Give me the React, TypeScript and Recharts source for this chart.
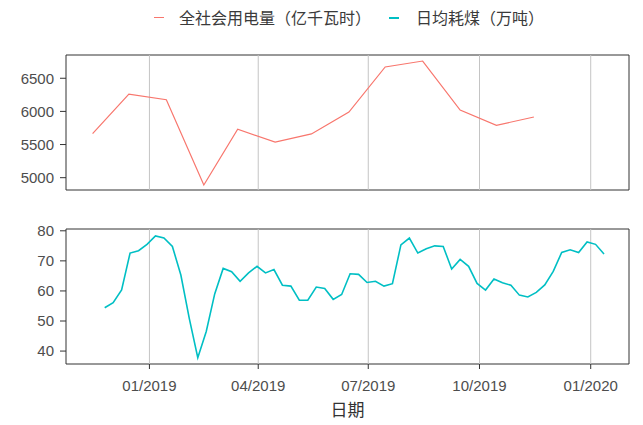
import React from 'react'
import { LineChart, Line, XAxis, YAxis, ReferenceLine, ReferenceArea } from 'recharts'

// monthly power consumption, 100 million kWh
const powerDates = [
  '2018-11-15', '2018-12-15', '2019-01-15', '2019-02-15', '2019-03-15', '2019-04-15', '2019-05-15',
  '2019-06-15', '2019-07-15', '2019-08-15', '2019-09-15', '2019-10-15', '2019-11-15',
]
const powerValues = [5665, 6262, 6176, 4890, 5730, 5536, 5660, 5990, 6670, 6760, 6020, 5790, 5915]

// weekly daily coal burn, 10k tonnes
const coalDates = [
  '2018-11-25', '2018-12-02', '2018-12-09', '2018-12-16', '2018-12-23', '2018-12-30',
  '2019-01-06', '2019-01-13', '2019-01-20', '2019-01-27', '2019-02-03', '2019-02-10',
  '2019-02-17', '2019-02-24', '2019-03-03', '2019-03-10', '2019-03-17', '2019-03-24',
  '2019-03-31', '2019-04-07', '2019-04-14', '2019-04-21', '2019-04-28', '2019-05-05',
  '2019-05-12', '2019-05-19', '2019-05-26', '2019-06-02', '2019-06-09', '2019-06-16',
  '2019-06-23', '2019-06-30', '2019-07-07', '2019-07-14', '2019-07-21', '2019-07-28',
  '2019-08-04', '2019-08-11', '2019-08-18', '2019-08-25', '2019-09-01', '2019-09-08',
  '2019-09-15', '2019-09-22', '2019-09-29', '2019-10-06', '2019-10-13', '2019-10-20',
  '2019-10-27', '2019-11-03', '2019-11-10', '2019-11-17', '2019-11-24', '2019-12-01',
  '2019-12-08', '2019-12-15', '2019-12-22', '2019-12-29', '2020-01-05', '2020-01-12',
]
const coalValues = [
  54.4, 56.1, 60.3, 72.6, 73.4, 75.5, 78.3, 77.6, 74.8, 65.3, 50.8, 37.8,
  46.5, 59.0, 67.5, 66.4, 63.2, 66.0, 68.2, 66.0, 67.1, 61.9, 61.6, 56.9,
  56.9, 61.3, 60.8, 57.2, 58.8, 65.7, 65.5, 62.8, 63.2, 61.6, 62.4, 75.3,
  77.6, 72.6, 74.0, 75.0, 74.8, 67.3, 70.5, 68.2, 62.5, 60.3, 64.0, 62.7,
  61.9, 58.6, 58.0, 59.5, 62.0, 66.5, 72.8, 73.7, 72.8, 76.3, 75.5, 72.3,
]

const tickDates = ['2019-01-01', '2019-04-01', '2019-07-01', '2019-10-01', '2020-01-01']
const powerTicks = [5000, 5500, 6000, 6500]
const coalTicks = [40, 50, 60, 70, 80]

const legendPower = '全社会用电量（亿千瓦时）'
const legendCoal = '日均耗煤（万吨）'
const xTitle = '日期'

const RED = '#F8766D'
const CYAN = '#00BFC4'
const FONT = '"Liberation Sans", Arial, sans-serif'
const CJK = '"Noto Sans CJK SC", sans-serif'

const xDomain: [number, number] = [Date.UTC(2018, 9, 24), Date.UTC(2020, 1, 1, 16)]
const powerDomain: [number, number] = [4814, 6851]
const coalDomain: [number, number] = [35.7, 80.6]

const ticksX = tickDates.map((d) => Date.parse(d))
const powerData = powerDates.map((d, i) => ({ t: Date.parse(d), v: powerValues[i] }))
const coalData = coalDates.map((d, i) => ({ t: Date.parse(d), v: coalValues[i] }))

const fmtMonth = (t: number) => {
  const d = new Date(t)
  return `${String(d.getUTCMonth() + 1).padStart(2, '0')}/${d.getUTCFullYear()}`
}

const yTick = { fontSize: 15, fill: '#4d4d4d', fontFamily: FONT }

export default function App() {
  return (
    <div style={{ position: 'absolute', left: 0, top: 0, width: 643, height: 425, background: '#fff' }}>
      {/* legend */}
      <div style={{ position: 'absolute', left: 154, top: 17, width: 10, height: 1.3, background: RED }} />
      <div style={{ position: 'absolute', left: 179, top: 6, fontSize: 16, lineHeight: '22px', color: '#3a3a3a', fontFamily: CJK }}>
        {legendPower}
      </div>
      <div style={{ position: 'absolute', left: 389, top: 17, width: 10, height: 1.6, background: CYAN }} />
      <div style={{ position: 'absolute', left: 416, top: 6, fontSize: 16, lineHeight: '22px', color: '#3a3a3a', fontFamily: CJK }}>
        {legendCoal}
      </div>

      {/* power panel */}
      <div style={{ position: 'absolute', left: 0, top: 45 }}>
        <LineChart width={643} height={155} data={powerData} margin={{ top: 10, right: 14, bottom: 10, left: 0 }}>
          <XAxis dataKey="t" type="number" domain={xDomain} allowDataOverflow hide />
          <YAxis
            type="number"
            domain={powerDomain}
            ticks={powerTicks}
            allowDataOverflow
            width={66}
            tickSize={6}
            tickMargin={6}
            axisLine={false}
            tickLine={{ stroke: '#333' }}
            tick={yTick}
          />
          {ticksX.map((t) => (
            <ReferenceLine key={t} x={t} stroke="#c4c4c4" strokeWidth={1} />
          ))}
          <Line type="linear" dataKey="v" stroke={RED} strokeWidth={1.2} dot={false} isAnimationActive={false} />
          <ReferenceArea x1={xDomain[0]} x2={xDomain[1]} y1={powerDomain[0]} y2={powerDomain[1]} fill="none" stroke="#333" strokeWidth={1} ifOverflow="visible" />
        </LineChart>
      </div>

      {/* coal panel */}
      <div style={{ position: 'absolute', left: 0, top: 219 }}>
        <LineChart width={643} height={206} data={coalData} margin={{ top: 10, right: 14, bottom: 7, left: 0 }}>
          <XAxis
            dataKey="t"
            type="number"
            domain={xDomain}
            allowDataOverflow
            ticks={ticksX}
            tickFormatter={fmtMonth}
            height={54}
            tickSize={5}
            tickMargin={11}
            axisLine={false}
            tickLine={{ stroke: '#333' }}
            tick={{ fontSize: 15, fill: '#4d4d4d', fontFamily: FONT }}
            label={{ value: xTitle, position: 'insideBottom', offset: 2, fontSize: 17, fill: '#333', fontFamily: CJK }}
          />
          <YAxis
            type="number"
            domain={coalDomain}
            ticks={coalTicks}
            allowDataOverflow
            width={66}
            tickSize={6}
            tickMargin={6}
            axisLine={false}
            tickLine={{ stroke: '#333' }}
            tick={yTick}
          />
          {ticksX.map((t) => (
            <ReferenceLine key={t} x={t} stroke="#c4c4c4" strokeWidth={1} />
          ))}
          <Line type="linear" dataKey="v" stroke={CYAN} strokeWidth={1.6} dot={false} isAnimationActive={false} />
          <ReferenceArea x1={xDomain[0]} x2={xDomain[1]} y1={coalDomain[0]} y2={coalDomain[1]} fill="none" stroke="#333" strokeWidth={1} ifOverflow="visible" />
        </LineChart>
      </div>
    </div>
  )
}
